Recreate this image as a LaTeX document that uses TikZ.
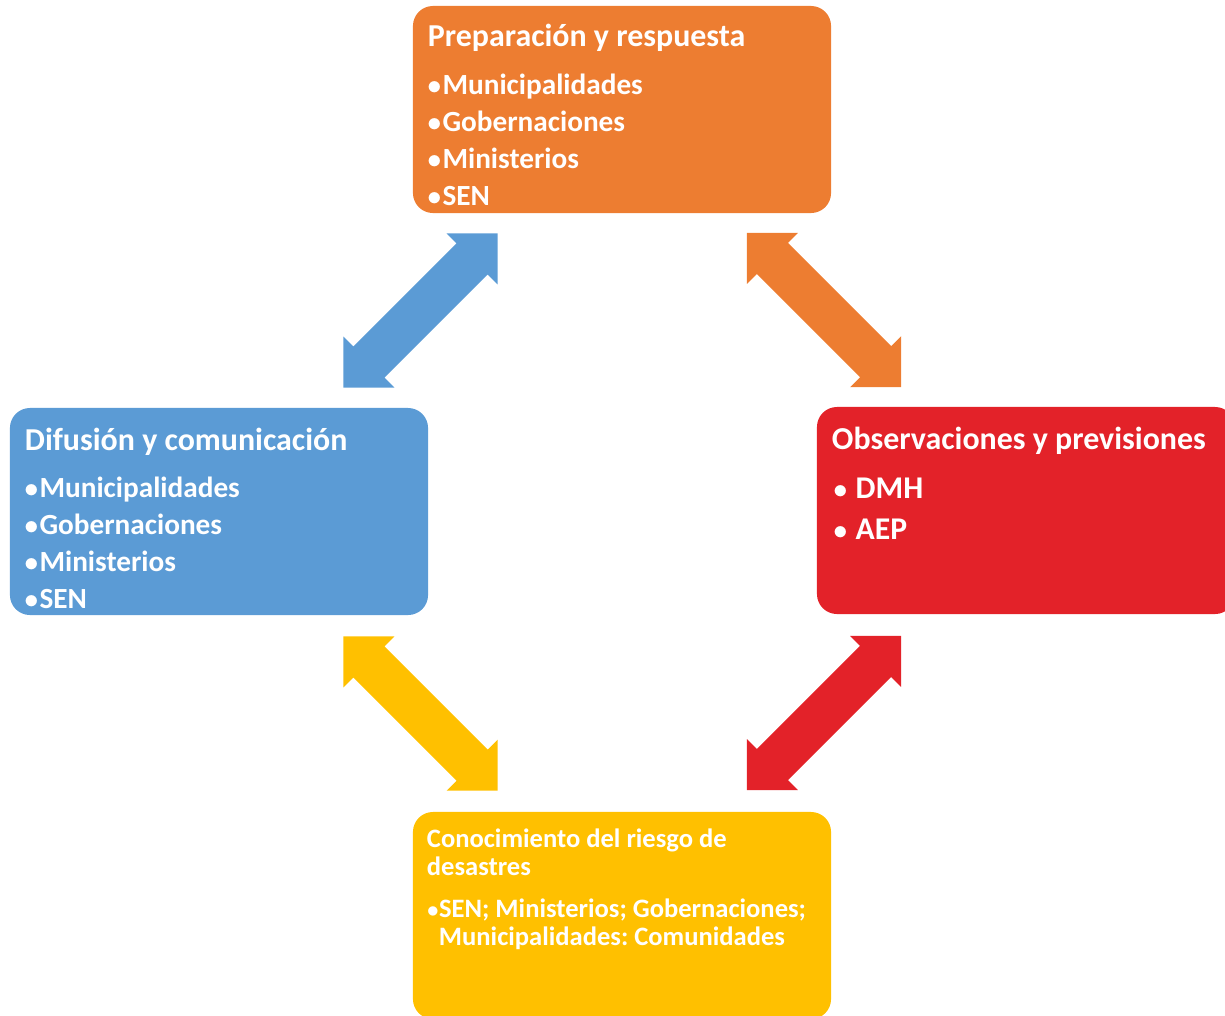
\documentclass[tikz,border=0pt]{standalone}
\usepackage{fontspec}
\setmainfont{Carlito}
\frenchspacing
\usetikzlibrary{calc, positioning}
\definecolor{naranja}{HTML}{ED7D31}
\definecolor{azul}{HTML}{5B9BD5}
\definecolor{rojo}{HTML}{E32229}
\definecolor{amarillo}{HTML}{FFC000}
\tikzstyle{panel} = [rectangle, rounded corners=0.5cm, minimum width=10.45cm, minimum height=5.175cm, inner sep=0pt]
\tikzstyle{heading} = [anchor=base west, inner sep=0pt, text=white, font=\bfseries\fontsize{22.7}{26}\selectfont]
\tikzstyle{entry} = [heading, font=\bfseries\fontsize{20.8}{24}\selectfont]
\tikzstyle{bigentry} = [heading, font=\bfseries\fontsize{22.5}{26}\selectfont]
\tikzstyle{smallentry} = [heading, font=\bfseries\fontsize{18.9}{22}\selectfont]
\newcommand{\dblarrow}[3]{\fill[#1, shift={(#2)}, rotate=#3] (-109,0) -- (-73,36) -- (-73,22) -- (73,22) -- (73,36) -- (109,0) -- (73,-36) -- (73,-22) -- (-73,-22) -- (-73,-36) -- cycle;}
\newcommand{\bul}{$\bullet$}

\begin{document}
\begin{tikzpicture}[x=0.025cm, y=-0.025cm]
\useasboundingbox (0,0) rectangle (1225,1015);
\clip (0,0) rectangle (1225,1015);

\node (prep) [panel, fill=naranja] at (622,109.5) {};
\node (difu) [panel, fill=azul] at (219,511.5) {};
\node (obs) [panel, fill=rojo] at (1026,510.5) {};
\node (cono) [panel, fill=amarillo] at (622,915.5) {};

\node (prep-t) [heading] at ($(prep.north west)+(15,41)$) {Preparación y respuesta};
\foreach \t [count=\i] in {Municipalidades,Gobernaciones,Ministerios,SEN}
  \node (prep-\i) [entry] at ($(prep.north west)+(15,52+37*\i)$) {\bul\t};

\node (difu-t) [heading] at ($(difu.north west)+(15,43)$) {Difusión y comunicación};
\foreach \t [count=\i] in {Municipalidades,Gobernaciones,Ministerios,SEN}
  \node (difu-\i) [entry] at ($(difu.north west)+(15,53+37*\i)$) {\bul\t};

\node (obs-t) [heading] at ($(obs.north west)+(15,43)$) {Observaciones y previsiones};
\foreach \t [count=\i] in {DMH,AEP}
  \node (obs-\i) [bigentry] at ($(obs.north west)+(17,51+41*\i)$) {\bul{} \t};

\node (cono-t) [smallentry] at ($(cono.north west)+(14,36)$) {Conocimiento del riesgo de};
\node (cono-t2) [smallentry] at ($(cono.north west)+(14,64)$) {desastres};
\node (cono-1) [smallentry] at ($(cono.north west)+(14,106)$) {\bul SEN; Ministerios; Gobernaciones;};
\node (cono-2) [smallentry] at ($(cono.north west)+(26,134)$) {Municipalidades: Comunidades};

\coordinate (a-az) at ($(prep.south west)!0.5!(difu.north east)$);
\coordinate (a-na) at ($(prep.south east)!0.5!(obs.north west)$);
\coordinate (a-am) at ($(difu.south east)!0.5!(cono.north west)$);
\coordinate (a-ro) at ($(obs.south west)!0.5!(cono.north east)$);

\dblarrow{azul}{a-az}{45}
\dblarrow{naranja}{a-na}{-45}
\dblarrow{amarillo}{a-am}{-45}
\dblarrow{rojo}{a-ro}{45}

\end{tikzpicture}
\end{document}
